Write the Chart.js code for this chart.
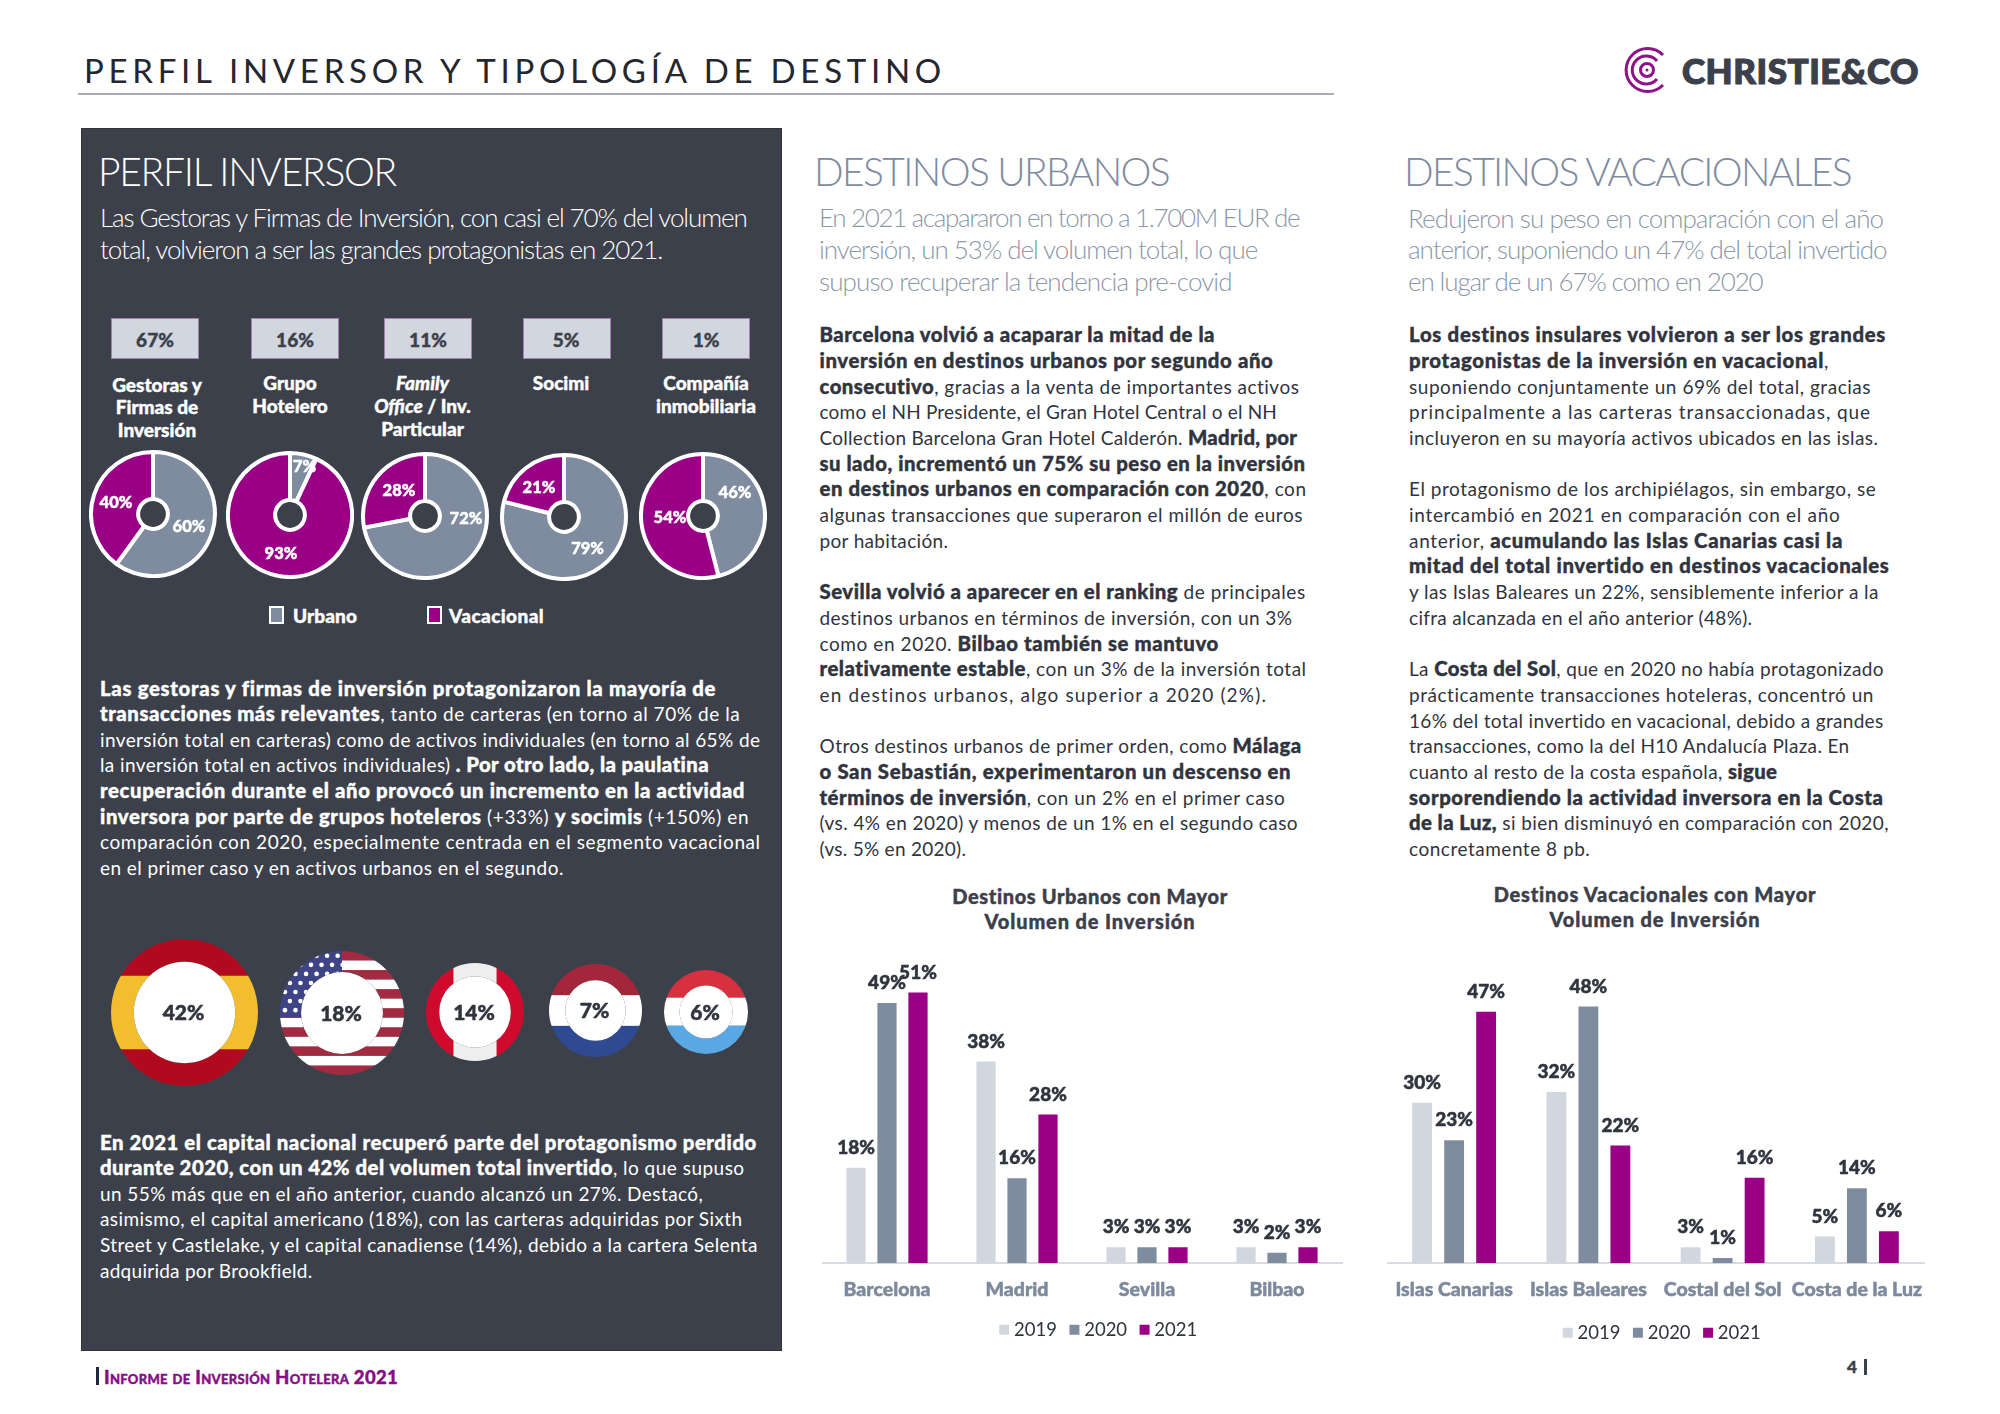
<!DOCTYPE html>
<html lang="es">
<head>
<meta charset="utf-8">
<title>Perfil inversor y tipología de destino</title>
<script src="https://cdn.jsdelivr.net/npm/chart.js@4"></script>
<style>
html,body{margin:0;padding:0;background:#fff;width:2000px;height:1414px;overflow:hidden;font-family:Lato,sans-serif}
#page{position:relative;width:2000px;height:1414px;overflow:hidden}
.ln{position:absolute;white-space:nowrap;font-family:Lato,sans-serif}
.ln b{font-weight:900;font-size:1.07em;-webkit-text-stroke:.4px currentColor}
.hv{-webkit-text-stroke:.4px currentColor}
.abs{position:absolute}
canvas{position:absolute;display:block}
</style>
</head>
<body>
<div id="page"></div>
<script>
// ---- chart data ----
const investorTypes = ['Gestoras y Firmas de Inversión','Grupo Hotelero','Family Office / Inv. Particular','Socimi','Compañía inmobiliaria'];
const investorShares = [67,16,11,5,1];
const urbanoShares = [60,7,72,79,46];
const vacacionalShares = [40,93,28,21,54];
const shareSeries = ['Urbano','Vacacional'];
const capitalCountries = ['España','Estados Unidos','Canadá','Países Bajos','Luxemburgo'];
const capitalShares = [42,18,14,7,6];
const years = ['2019','2020','2021'];
const urbanCities = ['Barcelona','Madrid','Sevilla','Bilbao'];
const urban2019 = [18,38,3,3];
const urban2020 = [49,16,3,2];
const urban2021 = [51,28,3,3];
const holidayPlaces = ['Islas Canarias','Islas Baleares','Costal del Sol','Costa de la Luz'];
const holiday2019 = [30,32,3,5];
const holiday2020 = [23,48,1,14];
const holiday2021 = [47,22,16,6];

// ---- text ----
const introLeft = [['Las Gestoras y Firmas de Inversión, con casi el 70% del volumen',585],['total, volvieron a ser las grandes protagonistas en 2021.',519]];
const introUrban = [['En 2021 acapararon en torno a 1.700M EUR de',1018],['inversión, un 53% del volumen total, lo que',985],['supuso recuperar la tendencia pre-covid',965]];
const introHoliday = [['Redujeron su peso en comparación con el año',1475.5],['anterior, suponiendo un 47% del total invertido',1478.5],['en lugar de un 67% como en 2020',1381]];
const leftPara1 = [
['<b>Las gestoras y firmas de inversión protagonizaron la mayoría de</b>',561],
['<b>transacciones más relevantes</b>, tanto de carteras (en torno al 70% de la',580],
['inversión total en carteras) como de activos individuales (en torno al 65% de',596],
['la inversión total en activos individuales) <b>. Por otro lado, la paulatina</b>',556],
['<b>recuperación durante el año provocó un incremento en la actividad</b>',584],
['<b>inversora por parte de grupos hoteleros</b> (+33%) <b>y socimis</b> (+150%) en',587],
['comparación con 2020, especialmente centrada en el segmento vacacional',596],
['en el primer caso y en activos urbanos en el segundo.',442]];
const leftPara2 = [
['<b>En 2021 el capital nacional recuperó parte del protagonismo perdido</b>',593],
['<b>durante 2020, con un 42% del volumen total invertido</b>, lo que supuso',583.7],
['un 55% más que en el año anterior, cuando alcanzó un 27%. Destacó,',551],
['asimismo, el capital americano (18%), con las carteras adquiridas por Sixth',581.8],
['Street y Castlelake, y el capital canadiense (14%), debido a la cartera Selenta',593.7],
['adquirida por Brookfield.',244.5]];
const urbanBody = [
['<b>Barcelona volvió a acaparar la mitad de la</b>',952],
['<b>inversión en destinos urbanos por segundo año</b>',998],
['<b>consecutivo</b>, gracias a la venta de importantes activos',1018.6],
['como el NH Presidente, el Gran Hotel Central o el NH',1000.6],
['Collection Barcelona Gran Hotel Calderón. <b>Madrid, por</b>',1016.7],
['<b>su lado, incrementó un 75% su peso en la inversión</b>',1023],
['<b>en destinos urbanos en comparación con 2020</b>, con',1024],
['algunas transacciones que superaron el millón de euros',1020.8],
['por habitación.',743],
null,
['<b>Sevilla volvió a aparecer en el ranking</b> de principales',1023],
['destinos urbanos en términos de inversión, con un 3%',1013],
['como en 2020. <b>Bilbao también se mantuvo</b>',955],
['<b>relativamente estable</b>, con un 3% de la inversión total',1024],
['en destinos urbanos, algo superior a 2020 (2%).',993],
null,
['Otros destinos urbanos de primer orden, como <b>Málaga</b>',1020],
['<b>o San Sebastián, experimentaron un descenso en</b>',1012],
['<b>términos de inversión</b>, con un 2% en el primer caso',1007],
['(vs. 4% en 2020) y menos de un 1% en el segundo caso',1017],
['(vs. 5% en 2020).',757]];
const holidayBody = [
['<b>Los destinos insulares volvieron a ser los grandes</b>',1478],
['<b>protagonistas de la inversión en vacacional</b>,',1433],
['suponiendo conjuntamente un 69% del total, gracias',1466],
['principalmente a las carteras transaccionadas, que',1466],
['incluyeron en su mayoría activos ubicados en las islas.',1472],
null,
['El protagonismo de los archipiélagos, sin embargo, se',1470],
['intercambió en 2021 en comparación con el año',1442],
['anterior, <b>acumulando las Islas Canarias casi la</b>',1444],
['<b>mitad del total invertido en destinos vacacionales</b>',1481],
['y las Islas Baleares un 22%, sensiblemente inferior a la',1472],
['cifra alcanzada en el año anterior (48%).',1373],
null,
['La <b>Costa del Sol</b>, que en 2020 no había protagonizado',1476],
['prácticamente transacciones hoteleras, concentró un',1468.5],
['16% del total invertido en vacacional, debido a grandes',1476],
['transacciones, como la del H10 Andalucía Plaza. En',1449],
['cuanto al resto de la costa española, <b>sigue</b>',1392.6],
['<b>sorporendiendo la actividad inversora en la Costa</b>',1476],
['<b>de la Luz,</b> si bien disminuyó en comparación con 2020,',1480],
['concretamente 8 pb.',1246]];

// ---- colours / layout ----
const PURPLE='#990085', SLATE='#7f8c9f', PALE='#d2d6de', PANEL='#3c404a', INK='#30343e';
const D = 2000/1567;
const page = document.getElementById('page');
function box(x,y,w,h,css){const e=document.createElement('div');e.className='abs';e.style.cssText+=`left:${x}px;top:${y}px;width:${w}px;height:${h}px;${css||''}`;page.appendChild(e);return e;}
function line(html,x,yc,size,color,o){
  o=o||{};
  const e=document.createElement('div');e.className='ln'+(o.w===900?' hv':'');
  e.innerHTML=html;
  const lh=Math.round(size*1.3);
  e.style.cssText+=`left:${x}px;top:${yc-lh/2}px;line-height:${lh}px;font-size:${size}px;color:${color};font-weight:${o.w||400};${o.css||''}`;
  page.appendChild(e);
  if(o.right!=null){
    const n=e.textContent.length;
    const ls=(o.right-x-e.getBoundingClientRect().width)/n;
    e.style.letterSpacing=ls+'px';
  }
  if(o.center){ e.style.left=(x-e.getBoundingClientRect().width/2)+'px'; }
  return e;
}
function cline(html,cx,yc,size,color,w,width){
  const o={w:w,center:true};
  const e=line(html,cx,yc,size,color,o);
  if(width){
    const cur=e.getBoundingClientRect().width;
    e.style.letterSpacing=((width-cur)/e.textContent.length)+'px';
    e.style.left=(cx-e.getBoundingClientRect().width/2)+'px';
  }
  return e;
}
function block(lines,x,y0,pitch,size,color,w){
  lines.forEach((l,i)=>{ if(l) line(l[0],x,y0+pitch*i,size,color,{w:w,right:l[1]*D}); });
}

// header
line('PERFIL INVERSOR Y TIPOLOGÍA DE DESTINO',84,70,33,'#25272e',{w:400,right:946});
box(78,93,1256,1.5,'background:#a9acb2');
// logo
const logo=box(1622,44,50,52);
logo.innerHTML=`<svg width="50" height="52" viewBox="0 0 50 52" fill="none" stroke="#8e1384" stroke-width="3">
<path d="M41 11 A21.5 21.5 0 1 0 41 41"/><path d="M35 17 A14 14 0 1 0 35 35"/><circle cx="25" cy="26" r="6.5"/><circle cx="25" cy="26" r="1.5" fill="#8e1384" stroke="none"/></svg>`;
line('CHRISTIE&amp;CO',1682,70,35,PANEL,{w:900,right:1919,css:'-webkit-text-stroke:1.2px currentColor;'});

// left panel
box(82,128.5,699,1221,`background:${PANEL};box-shadow:0 0 0 1px #30333b`);
line('PERFIL INVERSOR',98,171,39,'#fff',{w:300,right:396});
block(introLeft,100,217,31.8,26,'#fff',300);

const boxX=[111,251,384,522.5,662], boxText=[155,295,428,566,706];
investorShares.forEach((v,i)=>{
  box(boxX[i],318,88,41,`box-sizing:border-box;background:${PALE};border:1.5px solid #a680b4`);
  cline(v+'%',boxText[i],339,19,PANEL,900);
});
const typeLines=[['Gestoras y','Firmas de','Inversión'],['Grupo','Hotelero'],['<i>Family</i>','<i>Office</i> / Inv.','Particular'],['Socimi'],['Compañía','inmobiliaria']];
const typeX=[157,290,422.5,561,706], typeY=[384,382.5,382.5,382.5,382.5];
typeLines.forEach((ls,i)=>ls.forEach((t,j)=>cline(t,typeX[i],typeY[i]+j*22.8,19,'#fff',900)));

// share legend
box(269,606,15,18,`box-sizing:border-box;background:${SLATE};border:2px solid #fff`);
line(shareSeries[0],293,615,19,'#fff',{w:900,right:357});
box(427,606,15,18,`box-sizing:border-box;background:${PURPLE};border:2px solid #fff`);
line(shareSeries[1],449,615,19,'#fff',{w:900,right:544});

block(leftPara1,100,688,25.65,19,'#fff',400);
block(leftPara2,100,1142,25.65,19,'#fff',400);

// column headers
line('DESTINOS URBANOS',814,171,39,SLATE,{w:300,right:1169});
block(introUrban,819,217,31.8,26,'#8c97a8',300);
line('DESTINOS VACACIONALES',1404,171,39,SLATE,{w:300,right:1851});
block(introHoliday,1408,217.5,31.6,26,'#8c97a8',300);
block(urbanBody,819.5,334.6,25.7,19,INK,400);
block(holidayBody,1409,334.6,25.7,19,INK,400);

// chart titles
cline('Destinos Urbanos con Mayor',1090,896,20,PANEL,900,276);
cline('Volumen de Inversión',1090,921,20,PANEL,900,211);
cline('Destinos Vacacionales con Mayor',1655,894,20,PANEL,900,323);
cline('Volumen de Inversión',1655,919,20,PANEL,900,211);

// footer
box(96,1367,3,18,'background:#1f2740');
line('Informe de Inversión Hotelera 2021',104,1377,18.5,'#850f85',{w:900,right:398,css:'font-variant:small-caps;'});
line('4',1847,1367,17,PANEL,{w:900});
box(1864,1359,2.5,16,`background:${PANEL}`);

// ---- charts ----
Chart.defaults.font.family='Lato, sans-serif';
Chart.defaults.animation=false;
Chart.defaults.responsive=false;
Chart.defaults.devicePixelRatio=1;
function addCanvas(x,y,w,h){const c=document.createElement('canvas');c.width=w;c.height=h;c.style.left=x+'px';c.style.top=y+'px';c.style.width=w+'px';c.style.height=h+'px';page.appendChild(c);return c;}

// pie rings
const ringCenter=[[152.5,514],[290,515],[425,516],[564,517],[703,516]];
const ringLabelAt=[[[36,13],[-37,-11]],[[14.5,-48],[-9,39]],[[41,3],[-26,-25]],[[23.6,32],[-25,-29]],[[32,-23],[-33,2]]];
const sliceLabels={id:'sliceLabels',afterDatasetsDraw(ch,a,o){
  const c=ch.ctx,cx=ch.width/2,cy=ch.height/2;
  c.save();c.font='900 16.5px Lato';c.fillStyle='#fff';c.strokeStyle='#fff';c.lineWidth=.5;c.textAlign='center';c.textBaseline='middle';
  ch.data.datasets[0].data.forEach((v,k)=>{c.strokeText(v+'%',cx+o.at[k][0],cy+o.at[k][1]);c.fillText(v+'%',cx+o.at[k][0],cy+o.at[k][1]);});
  c.restore();
}};
investorTypes.forEach((name,i)=>{
  const S=128,[cx,cy]=ringCenter[i];
  new Chart(addCanvas(cx-S/2,cy-S/2,S,S),{type:'doughnut',
    data:{labels:shareSeries,datasets:[{data:[urbanoShares[i],vacacionalShares[i]],backgroundColor:[SLATE,PURPLE],borderColor:'#fff',borderWidth:4}]},
    options:{cutout:'24%',layout:{padding:0},plugins:{legend:{display:false},tooltip:{enabled:false},sliceLabels:{at:ringLabelAt[i]}}},
    plugins:[sliceLabels]});
});

// capital rings (flags as pattern fills)
function flagPattern(size,paint){const c=document.createElement('canvas');c.width=size;c.height=size;const g=c.getContext('2d');paint(g,size);return c;}
const flagPaint=[
 (g,s)=>{g.fillStyle='#b10a1e';g.fillRect(0,0,s,s);g.fillStyle='#f3be2d';g.fillRect(0,s*.25,s,s*.5);},
 (g,s)=>{const n=13,h=s/n;for(let k=0;k<n;k++){g.fillStyle=k%2?'#fff':'#a12c42';g.fillRect(0,k*h,s,h+.5);}
   g.fillStyle='#3f4486';g.fillRect(0,0,s*.5,h*7);g.fillStyle='#fff';
   for(let r=0;r<7;r++)for(let q=0;q<6;q++){g.beginPath();g.arc(s*.04+q*s*.085+(r%2?s*.04:0),h*.5+r*h*.95,2.3,0,7);g.fill();}},
 (g,s)=>{g.fillStyle='#cf0a2c';g.fillRect(0,0,s,s);g.fillStyle='#eeeeef';g.fillRect(s*.28,0,s*.44,s);},
 (g,s)=>{g.fillStyle='#fff';g.fillRect(0,0,s,s);g.fillStyle='#a3263a';g.fillRect(0,0,s,s*.335);g.fillStyle='#2e4a93';g.fillRect(0,s*.665,s,s*.34);},
 (g,s)=>{g.fillStyle='#fff';g.fillRect(0,0,s,s);g.fillStyle='#d9303f';g.fillRect(0,0,s,s*.33);g.fillStyle='#5aa8e3';g.fillRect(0,s*.66,s,s*.34);}
];
const flagCenter=[[184,1012],[342,1012.5],[475,1012],[595,1010.5],[706,1011.5]];
const flagSize=[147,124,98,93,84];
const flagHole=[.69,.66,.73,.65,.63];
const holeText={id:'holeText',afterDatasetsDraw(ch){
  const c=ch.ctx,a=ch.getDatasetMeta(0).data[0];
  c.save();c.fillStyle='#fff';c.beginPath();c.arc(a.x,a.y,a.innerRadius,0,Math.PI*2);c.fill();
  c.font='900 21px Lato';c.fillStyle=INK;c.strokeStyle=INK;c.lineWidth=.5;c.textAlign='center';c.textBaseline='middle';
  const t=ch.data.datasets[0].data[0]+'%';c.strokeText(t,a.x-1,a.y+1);c.fillText(t,a.x-1,a.y+1);c.restore();
}};
capitalShares.forEach((v,i)=>{
  const S=flagSize[i],[cx,cy]=flagCenter[i];
  const cv=addCanvas(cx-S/2,cy-S/2,S,S);
  const pat=cv.getContext('2d').createPattern(flagPattern(S,flagPaint[i]),'no-repeat');
  new Chart(cv,{type:'doughnut',
    data:{labels:[capitalCountries[i]],datasets:[{data:[v],backgroundColor:[pat],borderWidth:0}]},
    options:{cutout:(flagHole[i]*100)+'%',plugins:{legend:{display:false},tooltip:{enabled:false}}},
    plugins:[holeText]});
});

// bar charts
const barLabels={id:'barLabels',afterDatasetsDraw(ch){
  const c=ch.ctx;c.save();c.font='900 19px Lato';c.fillStyle=INK;c.strokeStyle=INK;c.lineWidth=.5;c.textAlign='center';c.textBaseline='middle';
  ch.data.datasets.forEach((d,k)=>ch.getDatasetMeta(k).data.forEach((b,j)=>{const t=d.data[j]+'%';c.strokeText(t,b.x,b.y-20);c.fillText(t,b.x,b.y-20);}));
  c.restore();
}};
function barChart(x,baseline,ppp,w,rightGap,legendY,cats,sets,pad){
  const areaH=60*ppp; let axisH=34;
  const cv=addCanvas(x,baseline-areaH,w,Math.round(areaH+100));
  const ch=new Chart(cv,{type:'bar',
    data:{labels:cats,datasets:sets.map((s,k)=>({label:years[k],data:s,backgroundColor:[PALE,SLATE,PURPLE][k],borderWidth:0,categoryPercentage:.715,barPercentage:.62}))},
    options:{maintainAspectRatio:false,layout:{padding:0},
      scales:{
        x:{grid:{display:false,drawTicks:false},border:{color:'#d8dbe2',width:2},ticks:{color:'#7d899c',textStrokeColor:'#7d899c',textStrokeWidth:.5,font:{size:19.5,weight:'900'},padding:15,autoSkip:false,maxRotation:0},afterFit:a=>{a.height=axisH;a.paddingLeft=0;a.paddingRight=0;}},
        y:{position:'right',min:0,max:60,display:true,grid:{display:false,drawTicks:false},border:{display:false},ticks:{display:false},afterFit:a=>{a.width=rightGap;}}
      },
      plugins:{tooltip:{enabled:false},
        legend:{position:'bottom',labels:{usePointStyle:true,pointStyle:'rect',boxWidth:1,boxHeight:10,padding:pad,color:'#30343e',font:{size:18.5}}}}},
    plugins:[barLabels]});
  const lh=ch.legend.height;
  axisH=legendY-baseline-lh/2;
  ch.resize(w,Math.round(areaH+axisH+lh));
  ch.update();
  ch.options.scales.y.max=ch.chartArea.height/ppp;
  ch.update();
  cv.style.top=(baseline-ch.chartArea.bottom)+'px';
  cv.style.left=x+'px';
}
barChart(822,1263,5.31,557,37,1326,urbanCities,[urban2019,urban2020,urban2021],17);
barChart(1387,1263,5.35,554,17,1329,holidayPlaces,[holiday2019,holiday2020,holiday2021],17);
</script>
</body>
</html>
